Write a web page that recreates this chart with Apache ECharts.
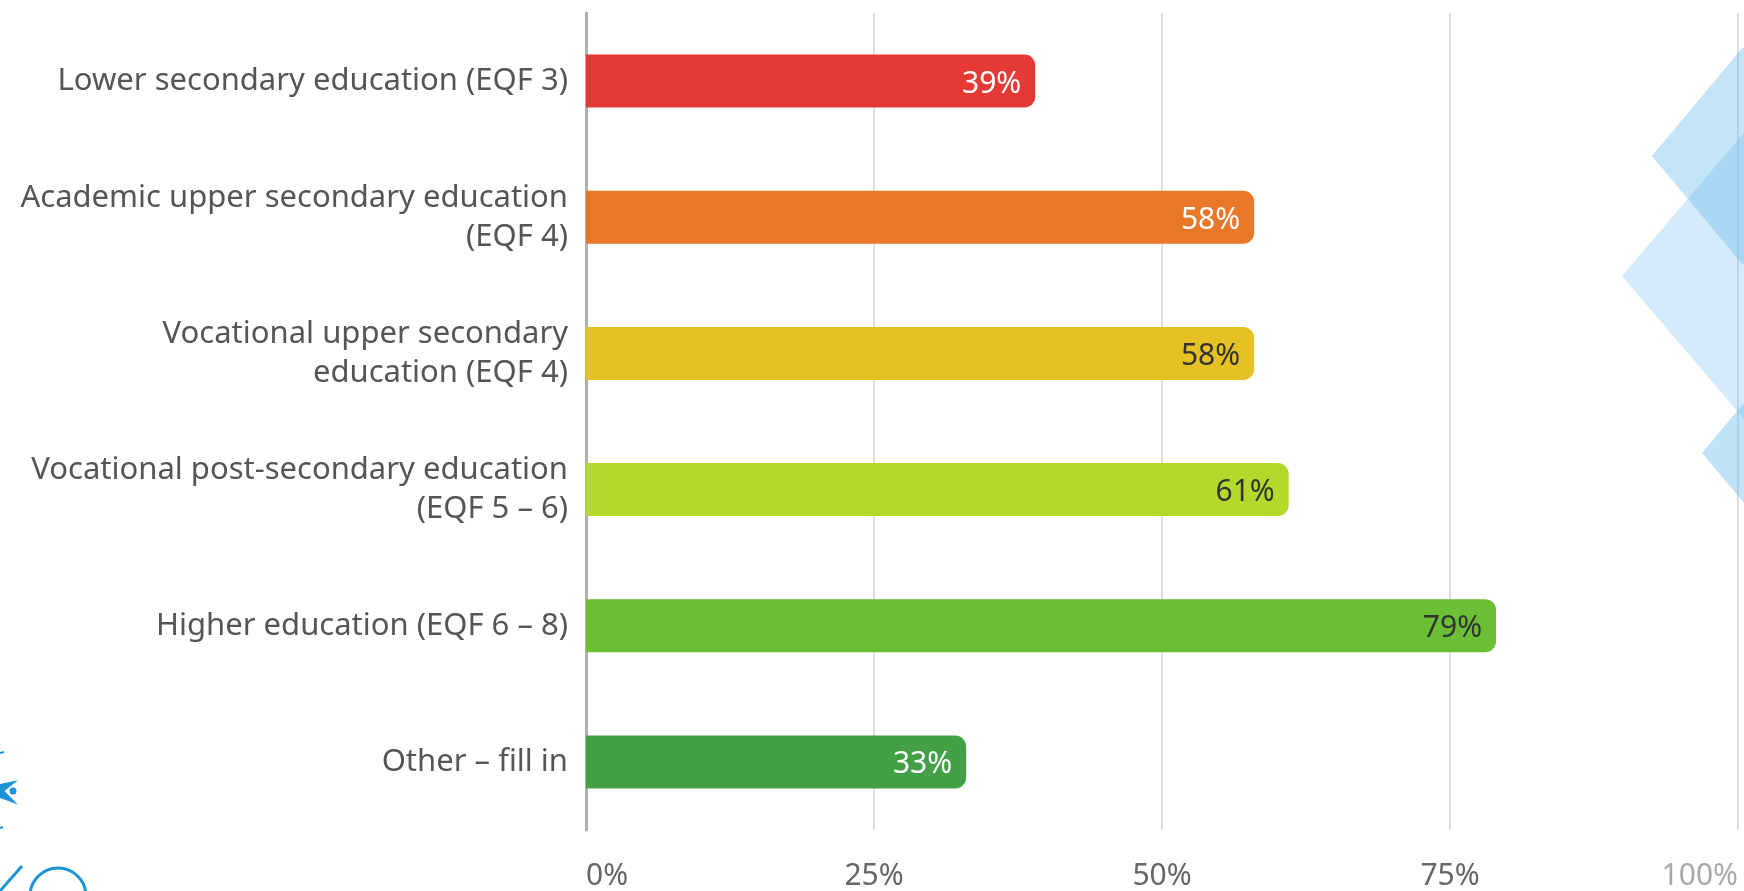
<!DOCTYPE html>
<html>
<head>
<meta charset="utf-8">
<script src="https://cdn.jsdelivr.net/npm/echarts@6/dist/echarts.min.js"></script>
<style>
html,body{margin:0;padding:0;background:#fff;}
#chart{width:1744px;height:891px;}
</style>
</head>
<body>
<div id="chart"></div>
<script>
var categories = [
  'Lower secondary education (EQF 3)',
  'Academic upper secondary education\n(EQF 4)',
  'Vocational upper secondary\neducation (EQF 4)',
  'Vocational post-secondary education\n(EQF 5 – 6)',
  'Higher education (EQF 6 – 8)',
  'Other – fill in'
];
var values = [39, 58, 58, 61, 79, 33];
var barColors = ['#e53935', '#e87828', '#e6c124', '#b3d92b', '#6bbf35', '#43a047'];
var labelColors = ['#ffffff', '#ffffff', '#333333', '#333333', '#333333', '#ffffff'];
var tickValues = [0, 25, 50, 75, 100];

var FONT = 'Noto Sans';
var chart = echarts.init(document.getElementById('chart'));

var diamonds = [
  {pts: [[1622, 276], [1744, 133], [1866, 276], [1744, 419]], fill: 'rgba(110,190,238,0.30)'},
  {pts: [[1652, 156], [1743, 47], [1834, 156], [1743, 265]], fill: 'rgba(100,185,235,0.38)'},
  {pts: [[1702, 453], [1744, 403], [1786, 453], [1744, 503]], fill: 'rgba(100,185,235,0.40)'}
];

var graphics = diamonds.map(function (d) {
  return {type: 'polygon', shape: {points: d.pts}, style: {fill: d.fill}, z: 100, silent: true};
});
// partial logo bottom-left
graphics.push(
  {type: 'line', shape: {x1: 0, y1: 753, x2: 4, y2: 752}, style: {stroke: '#1a93d9', lineWidth: 2}, z: 100},
  {type: 'polyline', shape: {points: [[0, 785], [14, 782], [3, 791], [14, 802], [0, 797]]}, style: {stroke: '#1a93d9', fill: '#1a93d9', lineWidth: 2}, z: 100},
  {type: 'circle', shape: {cx: 13, cy: 791, r: 3.5}, style: {fill: '#1a93d9'}, z: 100},
  {type: 'line', shape: {x1: 0, y1: 828, x2: 3, y2: 827}, style: {stroke: '#1a93d9', lineWidth: 2}, z: 100},
  {type: 'line', shape: {x1: 0, y1: 891, x2: 22, y2: 866}, style: {stroke: '#1a93d9', lineWidth: 3}, z: 100},
  {type: 'arc', shape: {cx: 58, cy: 896, r: 28, startAngle: Math.PI, endAngle: 2 * Math.PI}, style: {stroke: '#1a93d9', lineWidth: 3, fill: null}, z: 100}
);

chart.setOption({
  animation: false,
  backgroundColor: '#ffffff',
  grid: {left: 586, right: 6, top: 13, bottom: 59, containLabel: false},
  xAxis: {
    type: 'value',
    min: 0, max: 100, interval: 25,
    axisLine: {show: false},
    axisTick: {show: false},
    splitLine: {show: true, lineStyle: {color: '#dedede', width: 2}},
    axisLabel: {
      formatter: '{value}%',
      fontFamily: FONT, fontSize: 30,
      color: function (v) { return v == 100 ? '#a8a8a8' : '#666666'; },
      margin: 31,
      alignMinLabel: 'left',
      alignMaxLabel: 'right'
    }
  },
  yAxis: {
    type: 'category',
    data: categories,
    inverse: true,
    axisLine: {show: true, lineStyle: {color: '#b0b0b0', width: 3}},
    axisTick: {show: false},
    axisLabel: {
      fontFamily: FONT, fontSize: 31, color: '#555555',
      margin: 18, lineHeight: 39, align: 'right'
    }
  },
  series: [{
    type: 'bar',
    data: values.map(function (v, i) {
      return {
        value: v,
        itemStyle: {color: barColors[i]},
        label: {color: labelColors[i]}
      };
    }),
    barWidth: 53,
    itemStyle: {borderRadius: [0, 11, 11, 0]},
    label: {
      show: true,
      position: 'insideRight',
      distance: 14,
      offset: [0, 3],
      formatter: '{c}%',
      fontFamily: FONT, fontSize: 30
    }
  }],
  graphic: graphics
});
</script>
</body>
</html>
